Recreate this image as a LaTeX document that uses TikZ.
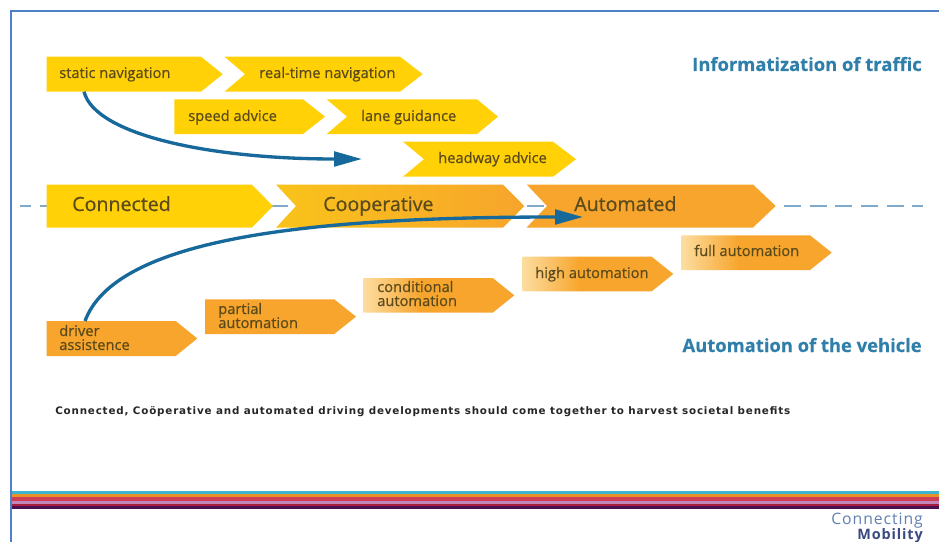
\documentclass[tikz,border=0pt]{standalone}
\usepackage{fontspec}
\usetikzlibrary{arrows.meta,fit,calc}
\newfontfamily\lab[FakeBold=0.6]{Open Sans}
\newfontfamily\head[FakeBold=0.3]{Open Sans}
\newfontfamily\capf[LetterSpace=8]{DejaVu Sans}
\newfontfamily\logof[LetterSpace=6]{Open Sans}
\definecolor{yel}{HTML}{FFD106}
\definecolor{org}{HTML}{F7A52C}
\definecolor{orgl}{HTML}{FDDDA0}
\definecolor{coopl}{HTML}{F9C31A}
\definecolor{txt}{HTML}{5A4A1C}
\definecolor{teal1}{HTML}{2F7FAA}
\definecolor{arrowb}{HTML}{17699B}
\definecolor{dashb}{HTML}{7FAACC}
\definecolor{frameb}{HTML}{4F7FC8}
\definecolor{logoa}{HTML}{6080B0}
\definecolor{logob}{HTML}{3A4A80}
\definecolor{st1}{HTML}{3FB4D0}
\definecolor{st2}{HTML}{E8922A}
\definecolor{st3}{HTML}{CF3C55}
\definecolor{st4}{HTML}{C287B8}
\definecolor{st5}{HTML}{A81C3C}
\definecolor{st6}{HTML}{4A1050}
\pgfdeclarehorizontalshading{fadeorg}{100bp}{color(0bp)=(orgl); color(25bp)=(orgl); color(44bp)=(org); color(100bp)=(org)}
\pgfdeclarehorizontalshading{coop}{100bp}{color(0bp)=(coopl); color(25bp)=(coopl); color(75bp)=(org); color(100bp)=(org)}
\tikzset{
  x=0.75pt,y=-0.75pt,
  yelfill/.style={fill=yel},
  orgfill/.style={fill=org},
  fadefill/.style={shading=fadeorg},
  coopfill/.style={shading=coop},
  small label/.style={font=\lab\fontsize{11}{11}\selectfont,text=txt,anchor=base west,inner sep=0pt,align=left},
  big label/.style={font=\lab\fontsize{14.7}{16}\selectfont,text=txt,anchor=base west,inner sep=0pt},
  title label/.style={font=\head\bfseries\fontsize{13.8}{14}\selectfont,text=teal1,anchor=base east,inner sep=0pt},
  flow/.style={draw=arrowb,line width=2.5pt,-{Triangle[length=21pt,width=11pt]}},
  body/.style={inner sep=0pt,outer sep=0pt},
}
% name, left, notch, shoulder, tip, top, bottom, fill style
\newcommand{\chev}[8]{%
  \pgfmathsetmacro{\midy}{(#6+#7)/2}%
  \path[#8] (#2,#6) -- (#4,#6) -- (#5,\midy) -- (#4,#7) -- (#2,#7) -- (#3,\midy) -- cycle;%
  \node[body,fit={(#2,#6)(#4,#7)}] (#1) {};%
}
\begin{document}
\begin{tikzpicture}
\useasboundingbox (0,0) rectangle (939,542);
\fill[white] (0,0) rectangle (939,542);
% frame
\draw[frameb,line width=1.9pt] (939,11) -- (11,11) -- (11,542);
% stripes
\fill[st1] (12,490.5) rectangle (939,494);
\fill[st2] (12,494) rectangle (939,497);
\fill[st3] (12,497) rectangle (939,500.5);
\fill[st4] (12,500.5) rectangle (939,503.5);
\fill[st5] (12,503.5) rectangle (939,506);
\fill[st6] (12,506) rectangle (939,509);
% axis
\draw[dashb,line width=1.5pt,dash pattern=on 12.75pt off 6.5pt,dash phase=4.5pt] (20,205.5) -- (923,205.5);
% chevrons
\chev{static}{46.7}{46.7}{201}{222.7}{56.7}{91.7}{yelfill}
\chev{realtime}{224.5}{245}{400}{422.7}{56.7}{91.7}{yelfill}
\chev{speed}{174.3}{174.3}{303}{325}{99.3}{134}{yelfill}
\chev{lane}{326.7}{347}{477}{498}{99.3}{134}{yelfill}
\chev{headway}{403}{424}{553}{576}{141.7}{176.7}{yelfill}
\chev{connected}{46.7}{46.7}{251.7}{273}{184.5}{227.7}{yelfill}
\chev{cooperative}{276}{296}{503}{524.3}{184.5}{227.7}{coopfill}
\chev{automated}{526.7}{547}{753}{775.7}{184.5}{227.5}{orgfill}
\chev{driver}{46.7}{46.7}{175.7}{197.3}{321}{356}{orgfill}
\chev{partial}{205}{205}{334.3}{356}{299.3}{334}{orgfill}
\chev{conditional}{363.3}{363.3}{492.7}{514.3}{278}{312.7}{fadefill}
\chev{high}{522.7}{522.7}{651.7}{673.3}{256.7}{291.3}{fadefill}
\chev{full}{681.7}{681.7}{810}{831.7}{235.3}{270}{fadefill}
% connectors
\coordinate (end1) at (362,159);
\coordinate (end2) at (583,217);
\draw[flow] ($(static.south west)!0.242!(static.south east)$) .. controls (95,135) and (210,159) .. (end1);
\draw[flow] ($(driver.north west)!0.297!(driver.north east)$) .. controls (115,240) and (300,217) .. (end2);
% labels
\node[small label] (t1) at (59,78) {static navigation};
\node[small label] (t2) at (259,78) {real-time navigation};
\node[small label] (t3) at (188,121) {speed advice};
\node[small label] (t4) at (361,121) {lane guidance};
\node[small label] (t5) at (438,163) {headway advice};
\node[big label] (t6) at (72,211) {Connected};
\node[big label] (t7) at (323,211) {Cooperative};
\node[big label] (t8) at (574,211) {Automated};
\node[small label] (t9a) at (59,336) {driver};
\node[small label] (t9b) at (59,350) {assistence};
\node[small label] (t10a) at (218,314) {partial};
\node[small label] (t10b) at (218,328) {automation};
\node[small label] (t11a) at (377,292) {conditional};
\node[small label] (t11b) at (377,306) {automation};
\node[small label] (t12) at (535,278) {high automation};
\node[small label] (t13) at (694,256) {full automation};
\node[title label] (t14) at (922,71) {Informatization of traffic};
\node[title label] (t15) at (922,352) {Automation of the vehicle};
\node[font=\capf\bfseries\fontsize{7.75}{8}\selectfont,text=black!85,anchor=base west,inner sep=0pt] (cap) at (55,414.5) {Connected, Coöperative and automated driving developments should come together to harvest societal benefits};
\node[font=\logof\fontsize{11.8}{12}\selectfont,text=logoa,anchor=base east,inner sep=0pt] (logo1) at (923,524.5) {Connecting};
\node[font=\logof\bfseries\fontsize{10.8}{11}\selectfont,text=logob,anchor=base east,inner sep=0pt] (logo2) at (923,539.5) {Mobility};
\end{tikzpicture}
\end{document}
